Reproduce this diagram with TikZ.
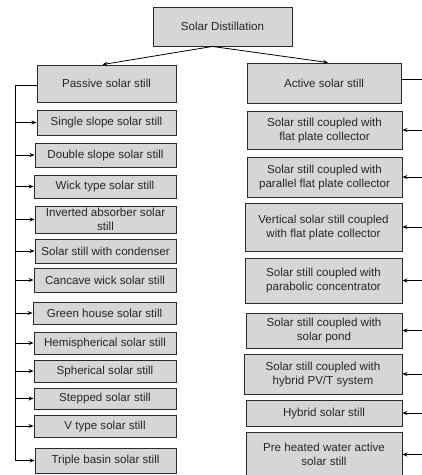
\documentclass[tikz,border=0pt]{standalone}
\usepackage{fontspec}
\setmainfont{Liberation Sans}
\usetikzlibrary{arrows.meta,calc}
\definecolor{boxfill}{HTML}{D6D6D6}
\definecolor{boxline}{HTML}{2A2A2A}
\definecolor{txt}{HTML}{262626}
\tikzset{
  sbox/.style={draw=boxline, fill=boxfill, line width=0.9pt, inner sep=0pt,
    align=center, text=txt, font=\fontsize{11.6}{14}\selectfont},
  conn/.style={draw=black, line width=0.8pt},
  arr/.style={conn, -{Stealth[length=5pt,width=4pt]}}
}
\newcommand{\bx}[7]{% name, x1, x2, y1, y2, text
  \node[sbox, minimum width=#3pt-#2pt, minimum height=#5pt-#4pt] (#1) at ({(#2+#3)/2}, {-(#4+#5)/2}) {#6#7};}
\begin{document}
\begin{tikzpicture}[x=1pt,y=1pt]
\useasboundingbox (0,0) rectangle (422,-475);
\fill[white] (0,0) rectangle (422,-475);
\coordinate (L) at (15,0);
\coordinate (R) at (424,0);
% top
\bx{top}{153}{292}{7}{46}{Solar Distillation}{}
% left column
\bx{passive}{37}{176}{65}{102}{Passive solar still}{}
\bx{single}{37}{176}{110}{135}{Single slope solar still}{}
\bx{double}{35}{176}{143}{167}{Double slope solar still}{}
\bx{wick}{34}{176}{175}{198}{Wick type solar still}{}
\bx{invert}{35}{176}{206}{233}{Inverted absorber solar\\still}{}
\bx{cond}{35}{176}{239}{263}{Solar still with condenser}{}
\bx{cancave}{34}{176}{268}{292}{Cancave wick solar still}{}
\bx{green}{33}{176}{302}{324}{Green house solar still}{}
\bx{hemi}{34}{176}{332}{354}{Hemispherical solar still}{}
\bx{spher}{34}{176}{360}{382}{Spherical solar still}{}
\bx{stepped}{34}{176}{388}{409}{Stepped solar still}{}
\bx{vtype}{34}{176}{415}{437}{V type solar still}{}
\bx{triple}{35}{176}{448}{473}{Triple basin solar still}{}
% right column
\bx{active}{247}{401}{63}{103}{Active solar still}{}
\bx{flat}{247}{402}{111}{149}{Solar still coupled with\\flat plate collector}{}
\bx{par}{247}{402}{157}{197}{Solar still coupled with\\parallel flat plate collector}{}
\bx{vert}{245}{402}{203}{251}{Vertical solar still coupled\\with flat plate collector}{}
\bx{parab}{245}{402}{258}{303}{Solar still coupled with\\parabolic concentrator}{}
\bx{pond}{246}{402}{313}{348}{Solar still coupled with\\solar pond}{}
\bx{pvt}{244}{402}{354}{394}{Solar still coupled with\\hybrid PV/T system}{}
\bx{hybrid}{246}{402}{400}{426}{Hybrid solar still}{}
\bx{preheat}{246}{402}{432}{477}{Pre heated water active\\solar still}{}
% top arrows
\draw[arr] ([xshift=-10pt]top.south) -- ([xshift=-4pt]passive.north);
\draw[arr] ([xshift=-10pt]top.south) -- ([xshift=4pt]active.north);
% left trunk
\draw[conn] ([yshift=-1.5pt]passive.west) -- ([yshift=-1.5pt]passive.west -| L) -- (triple.west -| L);
\foreach \n in {single,double,wick,invert,cond,cancave,green,hemi,spher,stepped,vtype,triple}{
  \draw[arr] (\n.west -| L) -- (\n.west);
}
% right side
\draw[conn] ([yshift=4pt]active.east) -- ([yshift=4pt]active.east -| R);
\foreach \n in {flat,par,vert,parab,pond,pvt,hybrid,preheat}{
  \draw[arr] (\n.east -| R) -- (\n.east);
}
\end{tikzpicture}
\end{document}
